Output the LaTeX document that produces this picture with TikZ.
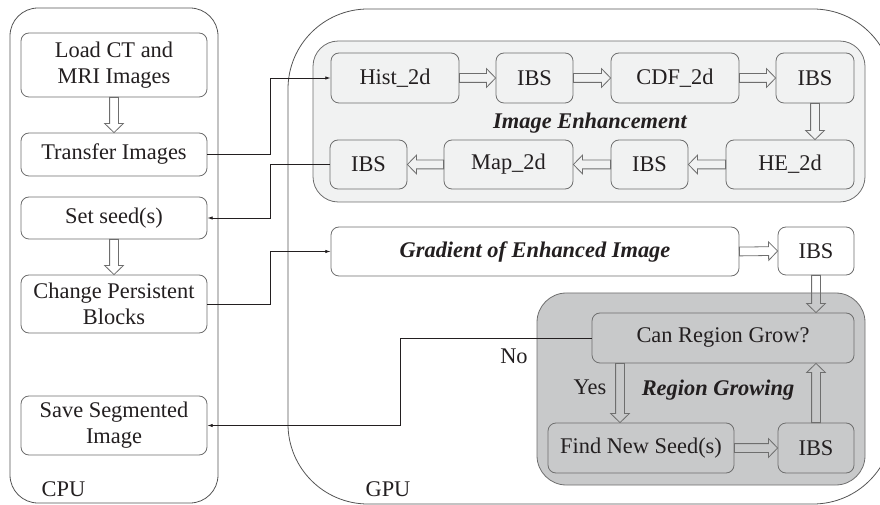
\documentclass[tikz,border=0pt]{standalone}
\usepackage{fontspec}
\setmainfont{Liberation Serif}
\usetikzlibrary{calc,arrows.meta}
\definecolor{ink}{HTML}{231F20}
\definecolor{edge}{HTML}{6E6E6E}
\definecolor{frame}{HTML}{555555}
\definecolor{lightfill}{HTML}{F1F2F2}
\definecolor{darkfill}{HTML}{C8C9CA}
\tikzset{
  every node/.style={text=ink, font=\fontsize{16.8}{19.5}\selectfont},
  wh/.style 2 args={minimum width=#1*0.75pt, minimum height=#2*0.75pt},
  container/.style={draw=frame, line width=0.6pt, inner sep=0pt},
  box/.style={draw=edge, line width=0.6pt, rounded corners=6pt, inner sep=0pt, align=center},
  cpubox/.style={box, fill=white},
  iebox/.style={box, fill=lightfill},
  rgbox/.style={box, fill=darkfill},
  title/.style={font=\fontsize{16.8}{19.5}\selectfont\bfseries\itshape},
  conn/.style={draw=ink, line width=0.6pt, -{Latex[length=4pt,width=2.6pt]}},
  hollowarrow/.style={draw=edge, line width=0.6pt, line join=miter}
}
\newcommand\harrow[2]{%
  \coordinate (hh) at ($(#2)!6.8pt!(#1)$);
  \draw[hollowarrow] ($(#1)!3.3pt!90:(#2)$) -- ($(hh)!3.3pt!-90:(#1)$) -- ($(hh)!7pt!-90:(#1)$) -- (#2) -- ($(hh)!7pt!90:(#1)$) -- ($(hh)!3.3pt!90:(#1)$) -- ($(#1)!3.3pt!-90:(#2)$) -- cycle;}
\begin{document}
\begin{tikzpicture}[x=0.75pt,y=-0.75pt]
\useasboundingbox (0,0) rectangle (880,505);
\clip (0,0) rectangle (880,505);
% containers
\node[container, rounded corners=21pt, wh={208}{495}] (cpu) at (114,255.5) {};
\node[container, rounded corners=60pt, wh={605}{495}] (gpu) at (590.5,256.5) {};
\node[container, draw=edge, fill=lightfill, rounded corners=19pt, wh={552}{161}] (ie) at (589,121.5) {};
\node[container, draw=edge, fill=darkfill, rounded corners=22pt, wh={328}{192}] (rg) at (701,389) {};
% CPU nodes
\node[cpubox, wh={186}{64}] (load) at (114,65) {Load CT and\\MRI Images};
\node[cpubox, wh={186}{43}] (transfer) at (114,154.5) {Transfer Images};
\node[cpubox, wh={186}{42}] (seed) at (114,218) {Set seed(s)};
\node[cpubox, wh={186}{58}] (change) at (114,304) {Change Persistent\\Blocks};
\node[cpubox, wh={186}{59}] (save) at (114,425.5) {Save Segmented\\Image};
\node[anchor=west] (cpulabel) at (37,489) {CPU};
\node (gpulabel) at (388,489) {GPU};
% Image enhancement
\node[iebox, wh={128}{50}] (hist) at (395,78) {Hist\_2d};
\node[iebox, wh={77}{50}] (ibsa) at (534.5,78) {IBS};
\node[iebox, wh={128}{50}] (cdf) at (675,78) {CDF\_2d};
\node[iebox, wh={78}{50}] (ibsb) at (815,78) {IBS};
\node[iebox, wh={128}{49}] (he) at (790,164.5) {HE\_2d};
\node[iebox, wh={77}{49}] (ibsc) at (649.5,164.5) {IBS};
\node[iebox, wh={129}{49}] (map) at (508.5,164.5) {Map\_2d};
\node[iebox, wh={77}{49}] (ibsd) at (368.5,164.5) {IBS};
\node[title] (ietitle) at (590,123) {Image Enhancement};
% Gradient
\node[cpubox, wh={408}{49}] (grad) at (535,251.5) {\bfseries\itshape Gradient of Enhanced Image};
\node[cpubox, wh={76}{48}] (ibsg) at (816,251) {IBS};
% Region growing
\node[rgbox, wh={262}{50}] (can) at (723,338) {Can Region Grow?};
\node[rgbox, wh={186}{50}] (find) at (641,448) {Find New Seed(s)};
\node[rgbox, wh={76}{50}] (ibsr) at (816,448) {IBS};
\node[title] (rgtitle) at (718,390) {Region Growing};
\node (yes) at (590,387) {Yes};
\node (no) at (514,356) {No};
% helper coordinates
\coordinate (busx) at (270,0);
\coordinate (nox) at (400,0);
\coordinate (yesx) at (620,0);
% hollow arrows
\harrow{load.south}{transfer.north}
\harrow{seed.south}{change.north}
\harrow{hist.east}{ibsa.west}
\harrow{ibsa.east}{cdf.west}
\harrow{cdf.east}{ibsb.west}
\harrow{ibsb.south}{ibsb.south |- he.north}
\harrow{he.west}{ibsc.east}
\harrow{ibsc.west}{map.east}
\harrow{map.west}{ibsd.east}
\harrow{grad.east}{ibsg.west}
\harrow{ibsg.south}{ibsg.south |- can.north}
\harrow{can.south -| yesx}{find.north -| yesx}
\harrow{find.east}{ibsr.west}
\harrow{ibsr.north}{ibsr.north |- can.south}
% connectors
\draw[conn] (transfer.east) -- (transfer.east -| busx) |- (hist.west);
\draw[conn] (ibsd.west) -- (ibsd.west -| busx) |- (seed.east);
\draw[conn] (change.east) -- (change.east -| busx) |- (grad.west);
\draw[conn] (can.west) -- (can.west -| nox) |- (save.east);
\end{tikzpicture}
\end{document}
